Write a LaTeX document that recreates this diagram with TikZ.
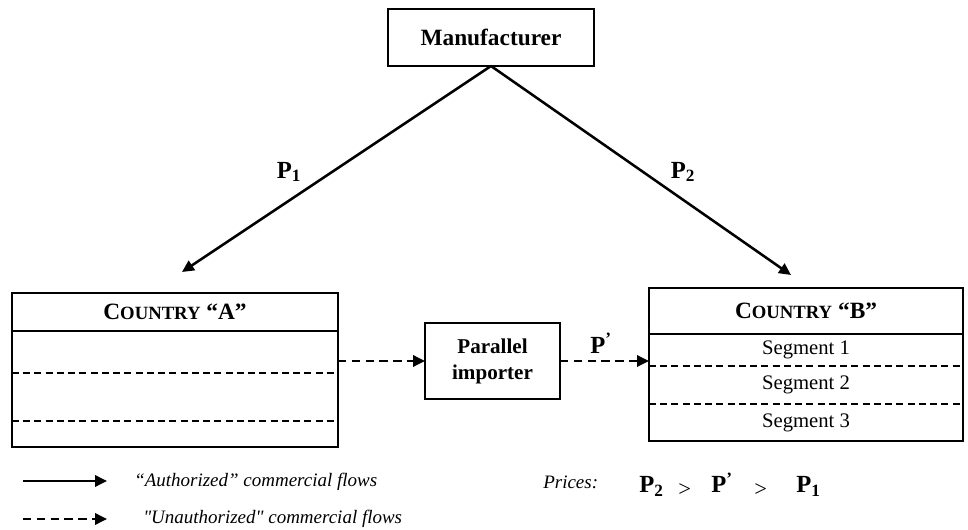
\documentclass[tikz,border=0pt]{standalone}
\usepackage{fontspec}
\setmainfont{Liberation Serif}
\usetikzlibrary{positioning, arrows.meta}

\newcommand{\smcap}[1]{{\fontsize{13.3}{15}\selectfont #1}}

\begin{document}
\begin{tikzpicture}[x=0.025cm, y=-0.025cm, line width=1.8pt,
  box node/.style={rectangle,draw,outer sep=0pt,inner sep=0pt,font=\fontsize{16.6}{19}\selectfont\bfseries},
  row node/.style={rectangle,outer sep=0pt,inner sep=0pt,font=\fontsize{14.7}{17}\selectfont},
  price/.style={inner sep=0pt,font=\fontsize{17.5}{20}\selectfont\bfseries},
  legend text/.style={inner sep=0pt,anchor=west,font=\fontsize{13.5}{16}\selectfont\itshape},
  flow/.style={-{Triangle[length=8.5pt,width=8pt]}},
  grey flow/.style={flow,dash pattern=on 6pt off 3.8pt},
  sep line/.style={line width=1.1pt,dash pattern=on 5pt off 3pt}]

\useasboundingbox (0,0) rectangle (968,530);

% top
\node[box node, minimum width=5.15cm, minimum height=1.425cm] (man) at (491,37.5) {Manufacturer};

% country A
\node[box node, minimum width=8.15cm, minimum height=0.95cm] (ctyA) at (175,312) {C\smcap{OUNTRY} “A”};
\node[row node, minimum width=8.15cm, minimum height=1.05cm] (rowA1) [below=0pt of ctyA] {};
\node[row node, minimum width=8.15cm, minimum height=1.2cm] (rowA2) [below=0pt of rowA1] {};
\node[row node, minimum width=8.15cm, minimum height=0.65cm] (rowA3) [below=0pt of rowA2] {};
\draw (rowA1.north west) rectangle (rowA3.south east);
\draw[sep line] (rowA1.south west) -- (rowA1.south east);
\draw[sep line] (rowA2.south west) -- (rowA2.south east);

% importer
\node[box node, minimum width=3.375cm, minimum height=1.9cm, align=center,
  font=\fontsize{15}{18.5}\selectfont\bfseries] (imp) at (492.5,361) {Parallel\\importer};

% country B
\node[box node, minimum width=7.85cm, minimum height=1.15cm] (ctyB) at (806,311) {C\smcap{OUNTRY} “B”};
\node[row node, minimum width=7.85cm, minimum height=0.8cm] (seg1) [below=0pt of ctyB] {Segment 1};
\node[row node, minimum width=7.85cm, minimum height=0.95cm] (seg2) [below=0pt of seg1] {Segment 2};
\node[row node, minimum width=7.85cm, minimum height=0.925cm] (seg3) [below=0pt of seg2] {Segment 3};
\draw (seg1.north west) rectangle (seg3.south east);
\draw[sep line] (seg1.south west) -- (seg1.south east);
\draw[sep line] (seg2.south west) -- (seg2.south east);

% flows
\coordinate (tipA) at (182,272);
\coordinate (tipB) at (791,275);
\path[flow] (man.south) edge (tipA)
            (man.south) edge (tipB);
\path[grey flow] (rowA1.east |- imp.west) edge (imp.west)
                 (imp.east) edge (imp.east -| seg1.west);

\node[price] (pA) at (289,172) {P\textsubscript{1}};
\node[price] (pB) at (683,172) {P\textsubscript{2}};
\node[price] (pI) at (601,343) {P\textsuperscript{’}};

% legend
\coordinate (solS) at (23,481);
\coordinate (solE) at (107,481);
\coordinate (dshS) at (23,519);
\coordinate (dshE) at (107,519);
\path[flow] (solS) edge (solE);
\path[grey flow] (dshS) edge (dshE);
\node[legend text] (solT) at (133,482) {“Authorized” commercial flows};
\node[legend text] (dshT) at (142,519) {\textquotedbl Unauthorized\textquotedbl{} commercial flows};

% prices
\node[legend text, anchor=base west] (prc) at (542,489) {Prices:};
\node[price, anchor=base west] (q2) at (638,493) {P\textsubscript{2}};
\node[price, anchor=base west, font=\fontsize{16}{19}\selectfont] (gt1) at (677,497) {>};
\node[price, anchor=base west] (qI) at (710,493) {P\textsuperscript{’}};
\node[price, anchor=base west, font=\fontsize{16}{19}\selectfont] (gt2) at (753,497) {>};
\node[price, anchor=base west] (q1) at (795,493) {P\textsubscript{1}};

\end{tikzpicture}
\end{document}
